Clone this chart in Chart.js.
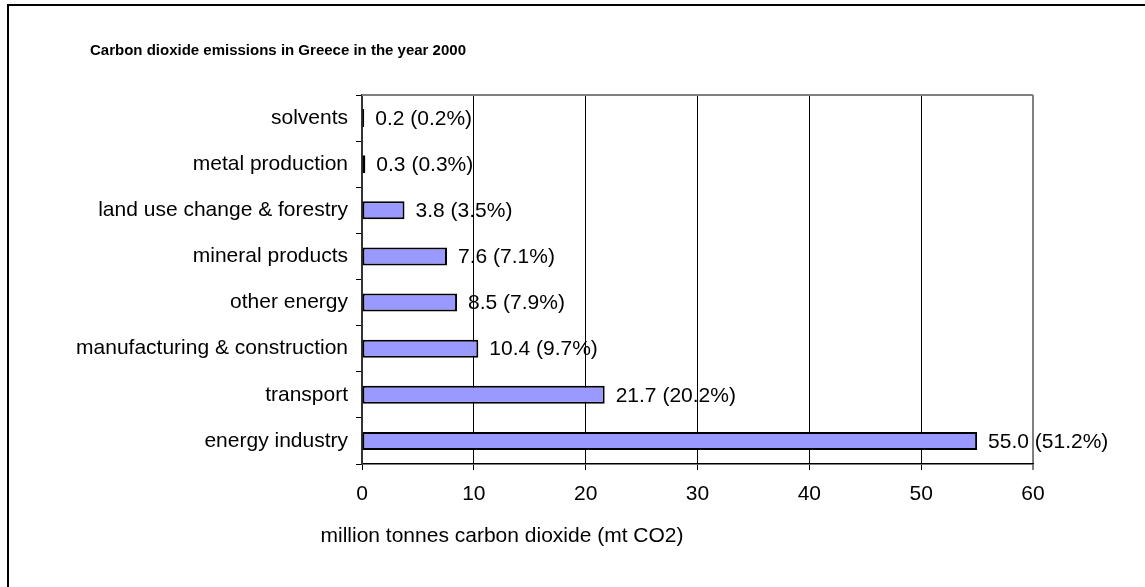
<!DOCTYPE html>
<html>
<head>
<meta charset="utf-8">
<script src="https://cdn.jsdelivr.net/npm/chart.js@4/dist/chart.umd.min.js"></script>
<style>
  html, body { margin: 0; padding: 0; background: #fff; overflow: hidden; }
  #frame { position: absolute; left: 7px; top: 4px; width: 1200px; height: 700px; border: 2px solid #000; box-sizing: border-box; }
  #c { position: absolute; left: 0; top: 0; }
</style>
</head>
<body>
<div id="frame"></div>
<canvas id="c" width="1145" height="587"></canvas>
<script>
const chartTitle = 'Carbon dioxide emissions in Greece in the year 2000';
const axisTitle = 'million tonnes carbon dioxide (mt CO2)';
const categories = ['solvents', 'metal production', 'land use change & forestry', 'mineral products', 'other energy', 'manufacturing & construction', 'transport', 'energy industry'];
const emissions = [0.2, 0.3, 3.8, 7.6, 8.5, 10.4, 21.7, 55.0];
const shares = [0.2, 0.3, 3.5, 7.1, 7.9, 9.7, 20.2, 51.2];
const xTicks = [0, 10, 20, 30, 40, 50, 60];

const FONT = '"Liberation Sans", Arial, sans-serif';
Chart.defaults.color = '#000';
Chart.defaults.font.family = FONT;

const decorPlugin = {
  id: 'decor',
  beforeDatasetsDraw(chart) {
    const {ctx, chartArea: a} = chart;
    ctx.save();
    ctx.strokeStyle = '#808080';
    ctx.lineWidth = 2;
    ctx.beginPath();
    ctx.moveTo(a.left, a.top);
    ctx.lineTo(a.right, a.top);
    ctx.stroke();
    ctx.restore();
  },
  afterDatasetsDraw(chart) {
    const {ctx, chartArea: a} = chart;
    ctx.save();
    ctx.fillStyle = '#000';
    ctx.font = '21px ' + FONT;
    ctx.textAlign = 'left';
    ctx.textBaseline = 'middle';
    const meta = chart.getDatasetMeta(0);
    meta.data.forEach((el, i) => {
      ctx.fillText(emissions[i].toFixed(1) + ' (' + shares[i].toFixed(1) + '%)', el.x + 11, el.y + 1);
    });
    // chart title
    ctx.font = 'bold 15px ' + FONT;
    ctx.fillText(chartTitle, 90, 51);
    // axis title
    ctx.font = '21px ' + FONT;
    ctx.textAlign = 'center';
    ctx.fillText(axisTitle, a.left + 140, 536);
    ctx.restore();
  }
};

new Chart(document.getElementById('c'), {
  type: 'bar',
  data: {
    labels: categories,
    datasets: [{
      data: emissions,
      backgroundColor: '#9999FF',
      borderColor: '#000',
      borderWidth: 2,
      borderSkipped: false,
      categoryPercentage: 1,
      barPercentage: 0.39
    }]
  },
  options: {
    indexAxis: 'y',
    responsive: false,
    animation: false,
    layout: { padding: { top: 95, right: 112, left: 0, bottom: 0 } },
    plugins: { legend: { display: false }, title: { display: false }, tooltip: { enabled: false } },
    scales: {
      x: {
        type: 'linear',
        min: xTicks[0],
        max: xTicks[xTicks.length - 1],
        afterBuildTicks(scale) { scale.ticks = xTicks.map(v => ({value: v})); },
        afterFit(scale) { scale.height = 123; },
        ticks: { font: { size: 21 }, padding: 12, color: '#000' },
        grid: {
          color: ctx => (ctx.tick && ctx.tick.value === 60) ? '#808080' : '#000',
          lineWidth: ctx => (ctx.tick && ctx.tick.value === 60) ? 2 : 1,
          tickLength: 6,
          drawTicks: true
        },
        border: { color: '#000', width: 1.5 }
      },
      y: {
        type: 'category',
        offset: true,
        afterFit(scale) { scale.width = 362; },
        ticks: { font: { size: 21 }, padding: 8, color: '#000' },
        grid: { offset: true, drawOnChartArea: false, drawTicks: true, tickLength: 6, color: '#000' },
        border: { color: '#333', width: 2 }
      }
    }
  },
  plugins: [decorPlugin]
});
</script>
</body>
</html>
